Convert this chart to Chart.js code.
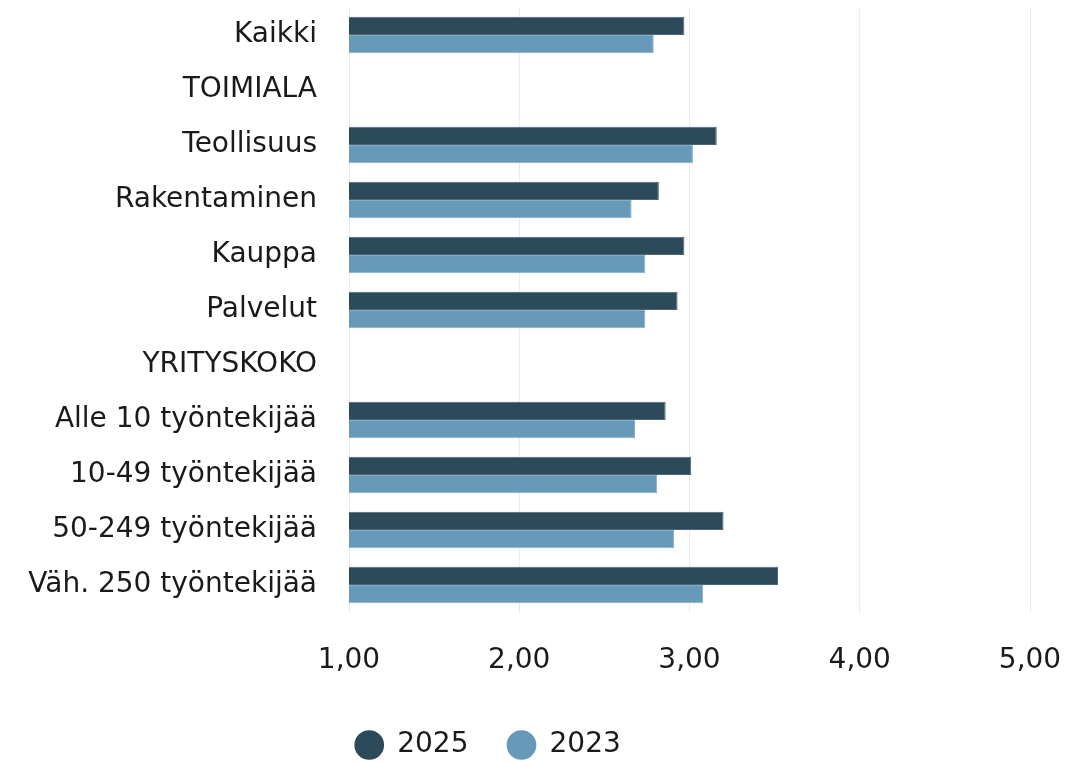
<!DOCTYPE html>
<html lang="fi">
<head>
<meta charset="utf-8">
<script src="https://cdn.jsdelivr.net/npm/chart.js@4/dist/chart.umd.min.js"></script>
<style>
    html, body {margin:0; padding:0; background:#fff;}
    .reportGraph {width:1088px; height:762px;}
</style>
</head>
<body>

<div class="reportGraph"><canvas id="canvas"></canvas></div>

<script type="text/javascript">
'use strict';

var categories = ["Kaikki", "TOIMIALA", "Teollisuus", "Rakentaminen", "Kauppa", "Palvelut",
    "YRITYSKOKO", "Alle 10 työntekijää", "10-49 työntekijää", "50-249 työntekijää", "Väh. 250 työntekijää"];
var values2025 = [2.97, null, 3.16, 2.82, 2.97, 2.93, null, 2.86, 3.01, 3.20, 3.52];
var values2023 = [2.79, null, 3.02, 2.66, 2.74, 2.74, null, 2.68, 2.81, 2.91, 3.08];
var xTicks = [1, 2, 3, 4, 5];

var FONT = "'DejaVu Sans', sans-serif";

// nudge the legend a bit to the left, under the bars
var legendShift = {
    id: 'legendShift',
    afterLayout: function(chart) {
        chart.legend.left -= 27;
        chart.legend.right -= 27;
    }
};

function drawGraphs() {
    new Chart(
        document.getElementById("canvas"), {
            type: "bar",
            data: {
                labels: categories,
                datasets: [
                    {label: "2025", data: values2025, backgroundColor: "#2d4a5b", borderColor: "#4b6677", borderWidth: 1},
                    {label: "2023", data: values2023, backgroundColor: "#6799b8", borderColor: "#86aec7", borderWidth: 1}
                ]
            },
            options: {
                indexAxis: "y",
                responsive: true,
                maintainAspectRatio: false,
                animation: false,
                datasets: {bar: {categoryPercentage: 0.66, barPercentage: 1}},
                layout: {padding: {top: 7.5, right: 58, left: 0, bottom: -7}},
                scales: {
                    x: {
                        min: 1, max: 5,
                        afterBuildTicks: function(axis) {
                            axis.ticks = xTicks.map(function(v) { return {value: v}; });
                        },
                        afterFit: function(axis) {
                            axis.paddingLeft = 0;
                            axis.paddingRight = 0;
                            axis.height = 79.5;
                        },
                        grid: {color: "#ececec", lineWidth: 1, drawTicks: false},
                        border: {display: false},
                        ticks: {
                            padding: 31,
                            color: "#1a1a1a",
                            font: {family: FONT, size: 28},
                            callback: function(v) { return Number(v).toFixed(2).replace(".", ","); }
                        }
                    },
                    y: {
                        afterFit: function(axis) {
                            axis.paddingTop = 0;
                            axis.paddingBottom = 0;
                            axis.width = 349;
                        },
                        grid: {display: false, drawTicks: false},
                        border: {display: false},
                        ticks: {
                            padding: 32,
                            color: "#1a1a1a",
                            font: {family: FONT, size: 28}
                        }
                    }
                },
                plugins: {
                    tooltip: {enabled: false},
                    legend: {
                        position: "bottom",
                        labels: {
                            usePointStyle: true,
                            pointStyle: "circle",
                            boxHeight: 21,
                            boxWidth: 28,
                            padding: 39,
                            color: "#1a1a1a",
                            font: {family: FONT, size: 28},
                            generateLabels: function(chart) {
                                var items = Chart.defaults.plugins.legend.labels.generateLabels(chart);
                                items.forEach(function(it) { it.lineWidth = 0; });
                                return items;
                            }
                        }
                    }
                }
            },
            plugins: [legendShift]
        }
    );
}
window.onload = function() {
    drawGraphs();
};
</script>
</body>
</html>
